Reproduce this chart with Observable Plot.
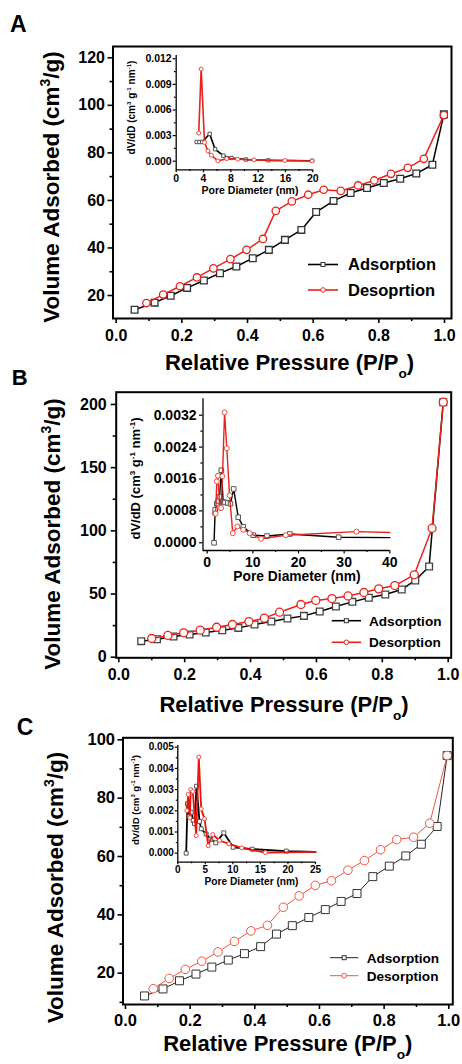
<!DOCTYPE html>
<html><head><meta charset="utf-8">
<script src="https://cdn.jsdelivr.net/npm/d3@7"></script>
<script src="https://cdn.jsdelivr.net/npm/@observablehq/plot@0.6"></script>
<style>
body{margin:0;background:#fff;}
#chart{position:relative;width:462px;height:1064px;overflow:hidden;background:#fff;}
#chart > svg{position:absolute;left:0;top:0;overflow:visible;background:transparent;}
</style></head><body><div id="chart"></div>
<script>
// ---------- DATA ----------
// Panel A isotherm (P/Po, cm3/g)
const isoA_ads = [[0.056,14.0],[0.117,17.0],[0.166,19.9],[0.216,23.2],[0.267,26.3],[0.316,29.4],[0.366,32.2],[0.416,35.7],[0.465,39.2],[0.514,43.4],[0.564,47.6],[0.609,55.1],[0.662,59.8],[0.714,63.1],[0.764,65.2],[0.815,67.3],[0.865,69.1],[0.914,71.3],[0.963,75.0],[0.998,96.2]];
const isoA_des = [[0.092,16.8],[0.143,20.4],[0.194,23.9],[0.246,27.6],[0.296,31.4],[0.348,35.3],[0.397,39.2],[0.447,43.8],[0.486,55.6],[0.535,59.6],[0.585,62.4],[0.632,64.5],[0.684,64.0],[0.737,66.3],[0.786,68.4],[0.837,71.2],[0.888,73.7],[0.937,77.5],[0.998,95.9]];
// Panel A pore size distribution (nm, dV/dD)
const psdA_ads = [[3.0,0.00225],[3.4,0.00225],[3.8,0.00225],[4.9,0.0032],[5.7,0.0014],[6.9,0.00065],[8.1,0.00038],[10.2,0.0002],[13.5,0.0001],[19.9,0.00005]];
const psdA_des = [[3.3,0.0033],[3.65,0.0108],[4.15,0.0022],[4.65,0.0012],[5.15,0.0007],[6.1,0.00003],[7.4,0.0003],[9.0,0.00023],[11.4,0.00016],[15.9,0.00008],[19.9,0.00003]];
// Panel B isotherm
const isoB_ads = [[0.068,12.7],[0.116,14.2],[0.166,16.4],[0.215,17.9],[0.264,19.5],[0.314,21.4],[0.363,23.2],[0.412,25.9],[0.463,28.2],[0.512,30.6],[0.562,32.7],[0.610,36.1],[0.659,40.1],[0.709,43.8],[0.759,47.0],[0.809,49.6],[0.859,53.6],[0.900,60.7],[0.942,71.8],[0.985,201.8]];
const isoB_des = [[0.100,14.8],[0.149,17.2],[0.197,19.3],[0.247,21.4],[0.297,23.7],[0.345,25.9],[0.395,28.2],[0.442,30.9],[0.488,35.6],[0.553,41.7],[0.598,44.9],[0.647,46.4],[0.696,48.5],[0.744,51.2],[0.789,54.1],[0.838,56.7],[0.897,65.2],[0.951,102.1],[0.985,201.8]];
// Panel B pore size distribution
const psdB_ads = [[1.5,0],[1.75,0.00083],[2.1,0.00098],[2.4,0.00105],[2.7,0.00115],[3.1,0.00182],[3.5,0.00102],[3.9,0.00101],[4.5,0.001],[5.1,0.00098],[5.8,0.00135],[6.8,0.00064],[7.9,0.0004],[10.1,0.00019],[13.1,0.00017],[18.1,0.00022],[28.8,0.00014],[40,0.00013]];
const psdB_des = [[1.65,0.00074],[1.85,0.00073],[2.1,0.00154],[2.35,0.00168],[2.75,0.00088],[3.05,0.00087],[3.35,0.00167],[3.8,0.00327],[4.3,0.00237],[4.9,0.00119],[5.6,0.00024],[6.6,0.00041],[7.9,0.00033],[9.3,0.00024],[11.8,0.0001],[17.2,0.00019],[32.7,0.00028],[40,0.00026]];
// Panel C isotherm
const isoC_ads = [[0.059,12.2],[0.116,14.6],[0.167,17.4],[0.218,19.7],[0.267,22.1],[0.318,24.5],[0.368,26.7],[0.418,29.1],[0.467,33.4],[0.516,36.3],[0.567,39.1],[0.618,41.8],[0.667,44.6],[0.716,47.3],[0.765,53.1],[0.816,56.7],[0.867,60.2],[0.915,64.2],[0.964,70.3],[0.995,94.6]];
const isoC_des = [[0.086,14.7],[0.135,18.2],[0.185,21.3],[0.236,24.1],[0.286,27.3],[0.337,30.9],[0.388,34.5],[0.439,36.4],[0.488,42.6],[0.537,46.5],[0.587,50.1],[0.637,51.7],[0.688,55.3],[0.739,58.6],[0.789,62.3],[0.839,65.8],[0.891,66.6],[0.941,71.4],[0.995,94.6]];
// Panel C pore size distribution
const psdC_ads = [[1.52,0],[1.76,0.00233],[2.12,0.00173],[2.43,0.00193],[2.8,0.00154],[3.03,0.00139],[3.4,0.00316],[3.94,0.0015],[4.25,0.00115],[5.15,0.0009],[6.0,0.00066],[6.9,0.00049],[8.35,0.00096],[10.05,0.00028],[13.5,0.00019],[19.7,0.0001],[25,0.00006]];
const psdC_des = [[1.64,0.00201],[1.89,0.00277],[2.18,0.00167],[2.36,0.003],[2.72,0.00291],[3.34,0.00083],[3.81,0.00453],[4.25,0.00209],[4.85,0.00162],[5.52,0.00035],[6.35,0.00088],[7.57,0.0006],[9.26,0.00044],[11.6,0.00025],[15.9,0.00003],[25,0.00006]];

// Tick values
const xTicksMain = [0,0.2,0.4,0.6,0.8,1.0];
const xMinorMain = [0.1,0.3,0.5,0.7,0.9];
const yTicksA = [20,40,60,80,100,120], yMinorA = [30,50,70,90,110];
const yTicksB = [0,50,100,150,200], yMinorB = [25,75,125,175];
const yTicksC = [20,40,60,80,100], yMinorC = [10,30,50,70,90];
const xTicksInA = [0,4,8,12,16,20], xMinorInA = [2,6,10,14,18];
const yTicksInA = [0,0.003,0.006,0.009,0.012], yMinorInA = [0.0015,0.0045,0.0075,0.0105];
const xTicksInB = [0,10,20,30,40], xMinorInB = [5,15,25,35];
const yTicksInB = [0,0.0008,0.0016,0.0024,0.0032], yMinorInB = [0.0004,0.0012,0.002,0.0028];
const xTicksInC = [0,5,10,15,20,25], xMinorInC = [2.5,7.5,12.5,17.5,22.5];
const yTicksInC = [0,0.001,0.002,0.003,0.004,0.005], yMinorInC = [0.0005,0.0015,0.0025,0.0035,0.0045];

// Text
const labelAds = "Adsorption";
const labelDesA = "Desoprtion";
const labelDes = "Desorption";

// ---------- LAYOUT ----------
const W = 462, H = 1064;
const FONT = '"Liberation Sans", Arial, Helvetica, sans-serif';
const RED = "#e8231c";
const chart = document.getElementById("chart");
const xy = {x: d => d[0], y: d => d[1]};

function box(L, R, T, B) {
  return {width: W, height: H, marginLeft: L, marginRight: W - R, marginTop: T, marginBottom: H - B};
}

function richText(svg, o) {
  const t = d3.select(svg).append("text")
    .attr("transform", `translate(${o.x},${o.y}) rotate(${o.rotate || 0})`)
    .attr("text-anchor", o.anchor || "start")
    .attr("font-size", o.size).attr("font-weight", "bold")
    .attr("font-family", FONT).attr("fill", "#000");
  let shift = 0;
  for (const [s, kind] of o.parts) {
    const target = kind === "sup" ? -0.42 * o.size : kind === "sub" ? 0.4 * o.size : 0;
    t.append("tspan").attr("dy", target - shift)
      .attr("font-size", kind ? o.size * 0.62 : o.size).text(s);
    shift = target;
  }
}

function legend(svg, o) {
  const g = d3.select(svg).append("g").attr("text-anchor", "start");
  o.items.forEach((it, i) => {
    const y = o.y + i * o.step;
    g.append("line").attr("x1", o.x1).attr("x2", o.x2).attr("y1", y).attr("y2", y)
      .attr("stroke", it.color).attr("stroke-width", o.lw);
    const cx = (o.x1 + o.x2) / 2;
    if (it.symbol === "square") {
      g.append("rect").attr("x", cx - o.ms / 2).attr("y", y - o.ms / 2).attr("width", o.ms).attr("height", o.ms)
        .attr("fill", "white").attr("stroke", it.mcolor).attr("stroke-width", 1);
    } else {
      g.append("circle").attr("cx", cx).attr("cy", y).attr("r", o.ms / 2 + 0.3)
        .attr("fill", "white").attr("stroke", it.mcolor).attr("stroke-width", 1);
    }
    g.append("text").attr("x", o.tx).attr("y", y).attr("dy", "0.36em")
      .attr("text-anchor", "start")
      .attr("font-size", o.size).attr("font-weight", "bold").attr("font-family", FONT)
      .attr("fill", "#000").text(it.label);
  });
}

function mainPlot(p) {
  const svg = Plot.plot({
    ...box(p.L, p.R, p.T, p.B),
    style: {fontFamily: FONT, fontWeight: "bold", fontSize: p.tickFont + "px", color: "#000", background: "transparent", overflow: "visible"},
    x: {domain: p.xDomain},
    y: {domain: p.yDomain},
    marks: [
      Plot.axisX({ticks: xTicksMain, tickSize: 5, tickPadding: p.xPad, tickFormat: d3.format(".1f"), label: null, strokeWidth: 1.6}),
      Plot.axisX({ticks: xMinorMain, tickSize: 3, tickFormat: () => "", label: null, strokeWidth: 1.6}),
      Plot.axisY({ticks: p.yTicks, tickSize: 5, tickPadding: p.yPad, tickFormat: d3.format("d"), label: null, strokeWidth: 1.6}),
      Plot.axisY({ticks: p.yMinor, tickSize: 3, tickFormat: () => "", label: null, strokeWidth: 1.6}),
      Plot.line(p.ads, {...xy, stroke: p.adsLine, strokeWidth: p.lw}),
      Plot.dot(p.ads, {...xy, symbol: "square", r: p.rs, fill: "white", stroke: p.adsMark, strokeWidth: p.mw}),
      Plot.line(p.des, {...xy, stroke: p.desLine, strokeWidth: p.lw}),
      Plot.dot(p.des, {...xy, symbol: "circle", r: p.rc, fill: "white", stroke: p.desLine, strokeWidth: p.mw}),
      Plot.frame({stroke: "#000", strokeWidth: 2})
    ]
  });
  chart.appendChild(svg);
  return svg;
}

function insetPlot(p) {
  const adsM = p.skipLast ? p.ads.slice(0, -1) : p.ads;
  const desM = p.skipLast ? p.des.slice(0, -1) : p.des;
  const svg = Plot.plot({
    ...box(p.L, p.R, p.T, p.B),
    style: {fontFamily: FONT, fontWeight: "bold", fontSize: p.tickFont + "px", color: "#000", background: "transparent", overflow: "visible"},
    x: {domain: p.xDomain},
    y: {domain: p.yDomain},
    marks: [
      Plot.ruleX([p.xDomain[0]], {stroke: "#000", strokeWidth: 1.3}),
      Plot.ruleY([p.yDomain[0]], {stroke: "#000", strokeWidth: 1.3}),
      Plot.axisX({ticks: p.xTicks, tickSize: p.ts, tickPadding: p.tp, tickFormat: d3.format("d"), label: null, strokeWidth: 1.2}),
      Plot.axisX({ticks: p.xMinor, tickSize: p.ts * 0.6, tickFormat: () => "", label: null, strokeWidth: 1.2}),
      Plot.axisY({ticks: p.yTicks, tickSize: p.ts, tickPadding: p.tp, tickFormat: d3.format(p.yFmt), label: null, strokeWidth: 1.2}),
      Plot.axisY({ticks: p.yMinor, tickSize: p.ts * 0.6, tickFormat: () => "", label: null, strokeWidth: 1.2}),
      Plot.line(p.ads, {...xy, stroke: "#000", strokeWidth: p.lw}),
      Plot.dot(adsM, {...xy, symbol: "square", r: p.rs, fill: "white", stroke: "#555", strokeWidth: 1}),
      Plot.line(p.des, {...xy, stroke: p.red, strokeWidth: p.lw}),
      Plot.dot(desM, {...xy, symbol: "circle", r: p.rc, fill: "white", stroke: "#f04a3a", strokeWidth: 1})
    ]
  });
  chart.appendChild(svg);
  return svg;
}

// ----- Panel A -----
const sA = mainPlot({L: 112.5, R: 451, T: 46, B: 318, xDomain: [-0.00975, 1.0213], yDomain: [10.33, 124.75],
  yTicks: yTicksA, yMinor: yMinorA, xPad: 6, yPad: 3, tickFont: 16, ads: isoA_ads, des: isoA_des,
  adsLine: "#000", adsMark: "#333", desLine: RED, lw: 1.5, mw: 1.3, rs: 3.8, rc: 3.7});
richText(sA, {x: 10, y: 32, size: 23, parts: [["A"]]});
richText(sA, {x: 289.5, y: 369.5, size: 22, anchor: "middle", parts: [["Relative Pressure (P/P"], ["o", "sub"], [")"]]});
richText(sA, {x: 59, y: 187, size: 22.5, anchor: "middle", rotate: -90, parts: [["Volume Adsorbed (cm"], ["3", "sup"], ["/g)"]]});
legend(sA, {x1: 308, x2: 338, y: 264.5, step: 25.5, tx: 348, size: 16.5, lw: 1.6, ms: 4,
  items: [{label: labelAds, color: "#000", mcolor: "#333", symbol: "square"}, {label: labelDesA, color: RED, mcolor: RED, symbol: "circle"}]});

const iA = insetPlot({L: 175.7, R: 312.3, T: 55, B: 169.3, xDomain: [0, 20], yDomain: [-0.001008, 0.012387],
  xTicks: xTicksInA, xMinor: xMinorInA, yTicks: yTicksInA, yMinor: yMinorInA, yFmt: ".3f",
  ts: 3, tp: 1.5, tickFont: 10.5, ads: psdA_ads, des: psdA_des, lw: 1.6, rs: 1.9, rc: 2.0, red: RED, skipLast: false});
richText(iA, {x: 250, y: 193.5, size: 10.5, anchor: "middle", parts: [["Pore Diameter (nm)"]]});
richText(iA, {x: 135, y: 107.5, size: 10, anchor: "middle", rotate: -90, parts: [["dV/dD (cm"], ["3", "sup"], [" g"], ["-1", "sup"], [" nm"], ["-1", "sup"], [")"]]});

// ----- Panel B -----
const sB = mainPlot({L: 115.7, R: 450.7, T: 391.7, B: 657.3, xDomain: [-0.0079, 1.0091], yDomain: [-0.47, 209.7],
  yTicks: yTicksB, yMinor: yMinorB, xPad: 6, yPad: 4.5, tickFont: 16, ads: isoB_ads, des: isoB_des,
  adsLine: "#000", adsMark: "#444", desLine: RED, lw: 1.5, mw: 1.3, rs: 3.8, rc: 4.0});
richText(sB, {x: 11.7, y: 385.3, size: 22, parts: [["B"]]});
richText(sB, {x: 284, y: 711.5, size: 22, anchor: "middle", parts: [["Relative Pressure (P/P"], ["o", "sub"], [")"]]});
richText(sB, {x: 60, y: 534, size: 22.5, anchor: "middle", rotate: -90, parts: [["Volume Adsorbed (cm"], ["3", "sup"], ["/g)"]]});
legend(sB, {x1: 331.7, x2: 361, y: 620.7, step: 21.6, tx: 369, size: 13.6, lw: 1.6, ms: 4,
  items: [{label: labelAds, color: "#000", mcolor: "#333", symbol: "square"}, {label: labelDes, color: RED, mcolor: RED, symbol: "circle"}]});

const iB = insetPlot({L: 202.5, R: 389.3, T: 398.3, B: 550, xDomain: [-0.92, 40], yDomain: [-0.000193, 0.003611],
  xTicks: xTicksInB, xMinor: xMinorInB, yTicks: yTicksInB, yMinor: yMinorInB, yFmt: ".4f",
  ts: 3.5, tp: 3, tickFont: 14, ads: psdB_ads, des: psdB_des, lw: 1.4, rs: 2.6, rc: 2.5, red: RED, skipLast: true});
richText(iB, {x: 297, y: 581, size: 13.8, anchor: "middle", parts: [["Pore Diameter (nm)"]]});
richText(iB, {x: 140, y: 478.5, size: 13, anchor: "middle", rotate: -90, parts: [["dV/dD (cm"], ["3", "sup"], [" g"], ["-1", "sup"], [" nm"], ["-1", "sup"], [")"]]});

// ----- Panel C -----
const sC = mainPlot({L: 122.5, R: 452.3, T: 737.3, B: 1004, xDomain: [-0.0077, 1.0124], yDomain: [9.27, 100.69],
  yTicks: yTicksC, yMinor: yMinorC, xPad: 4.5, yPad: 3, tickFont: 16.5, ads: isoC_ads, des: isoC_des,
  adsLine: "#222", adsMark: "#333", desLine: "#f2553f", lw: 1, mw: 1, rs: 4.5, rc: 4.3});
richText(sC, {x: 16.7, y: 735, size: 23, parts: [["C"]]});
richText(sC, {x: 287.8, y: 1050.5, size: 22, anchor: "middle", parts: [["Relative Pressure (P/P"], ["o", "sub"], [")"]]});
richText(sC, {x: 63, y: 887.5, size: 22.5, anchor: "middle", rotate: -90, parts: [["Volume Adsorbed (cm"], ["3", "sup"], ["/g)"]]});
legend(sC, {x1: 330, x2: 358.3, y: 957.7, step: 18, tx: 366.7, size: 13.6, lw: 1, ms: 4,
  items: [{label: labelAds, color: "#222", mcolor: "#333", symbol: "square"}, {label: labelDes, color: "#f2553f", mcolor: "#f2553f", symbol: "circle"}]});

const iC = insetPlot({L: 177.3, R: 315, T: 745, B: 861.7, xDomain: [0, 25], yDomain: [-0.000425, 0.00508],
  xTicks: xTicksInC, xMinor: xMinorInC, yTicks: yTicksInC, yMinor: yMinorInC, yFmt: ".3f",
  ts: 2.5, tp: 1.5, tickFont: 10, ads: psdC_ads, des: psdC_des, lw: 1.8, rs: 2.2, rc: 2.0, red: "#e8140f", skipLast: true});
richText(iC, {x: 251.5, y: 884.5, size: 10.2, anchor: "middle", parts: [["Pore Diameter (nm)"]]});
richText(iC, {x: 139, y: 800, size: 9.6, anchor: "middle", rotate: -90, parts: [["dV/dD (cm"], ["3", "sup"], [" g"], ["-1", "sup"], [" nm"], ["-1", "sup"], [")"]]});
</script></body></html>
